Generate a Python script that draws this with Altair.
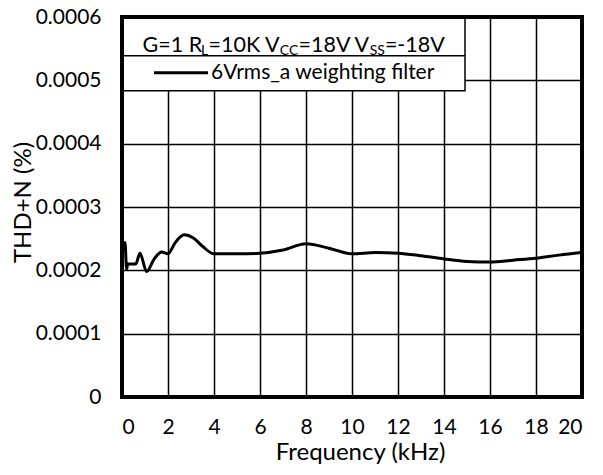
import altair as alt
import pandas as pd

# ---- data ----
freq_khz = [0.02, 0.13, 0.20, 0.25, 0.60, 0.78, 1.07, 1.40, 1.72, 2.00, 2.30, 2.70,
            3.10, 3.50, 4.00, 5.00, 6.00, 7.00, 8.00, 9.00, 10.0, 11.0, 12.0, 13.0,
            14.0, 15.0, 16.0, 17.0, 18.0, 19.0, 20.0]
thd_e4 = [2.30, 2.44, 2.02, 2.10, 2.10, 2.27, 1.98, 2.18, 2.29, 2.26, 2.43, 2.56,
          2.51, 2.38, 2.26, 2.26, 2.27, 2.32, 2.42, 2.35, 2.26, 2.28, 2.27, 2.23,
          2.18, 2.14, 2.13, 2.16, 2.19, 2.24, 2.28]
thd_pct = [v * 1e-4 for v in thd_e4]

x_ticks = [0, 2, 4, 6, 8, 10, 12, 14, 16, 18, 20]
y_ticks = [0, 0.0001, 0.0002, 0.0003, 0.0004, 0.0005, 0.0006]

x_title = "Frequency (kHz)"
y_title = "THD+N (%)"
legend_parts = ["G=1 R", "L", "=10K V", "CC", "=18V V", "SS", "=-18V"]
legend_sub = [False, True, False, True, False, True, False]
series_name = "6Vrms_a weighting filter"

# ---- layout ----
W, H = 460, 380
FONT = "Lato"
TICK_FS = 21
TITLE_FS = 24
LEG_FS = 21.5
SUB_FS = 14

# approximate Lato advance widths (em) to chain the legend text pieces
ADV = {"G": 0.714, "=": 0.58, "1": 0.58, " ": 0.193, "R": 0.631, "L": 0.506,
       "0": 0.58, "K": 0.676, "V": 0.678, "C": 0.652, "8": 0.58, "S": 0.524, "-": 0.37}


def text_width(s, fs):
    return sum(ADV.get(ch, 0.55) for ch in s) * fs


df = pd.DataFrame({"freq": freq_khz, "thd": thd_pct})
one = pd.DataFrame({"k": [0]})

line = alt.Chart(df).mark_line(color="black", strokeWidth=3, interpolate="monotone").encode(
    x=alt.X("freq:Q",
            scale=alt.Scale(domain=[0, 20], nice=False, zero=False),
            axis=alt.Axis(values=x_ticks, title=x_title, grid=True, ticks=False, domain=False,
                          labelPadding=19, labelFontSize=TICK_FS, titleFontSize=TITLE_FS,
                          titleX=238, titleY=62, titleAlign="center", titleBaseline="alphabetic")),
    y=alt.Y("thd:Q",
            scale=alt.Scale(domain=[0, 0.0006], nice=False),
            axis=alt.Axis(values=y_ticks, title=y_title, grid=True, ticks=False, domain=False,
                          labelPadding=21, labelFontSize=TICK_FS, titleFontSize=TITLE_FS,
                          labelExpr="datum.value == 0 ? '0' : format(datum.value, '.4f')",
                          titleX=-92, titleY=185, titleAlign="center", titleBaseline="alphabetic",
                          titleAngle=270)),
)

BOX_W, BOX_H, DIV_Y = 343, 73.7, 38.7

box = alt.Chart(one).mark_rect(fill="white", stroke="black", strokeWidth=1.5).encode(
    x=alt.value(0), x2=alt.value(BOX_W), y=alt.value(0), y2=alt.value(BOX_H))
divider = alt.Chart(one).mark_rule(color="black", strokeWidth=1.5).encode(
    x=alt.value(0), x2=alt.value(BOX_W), y=alt.value(DIV_Y))
sample = alt.Chart(one).mark_rule(color="black", strokeWidth=3).encode(
    x=alt.value(32), x2=alt.value(86), y=alt.value(55.7))
series_text = alt.Chart(one).mark_text(align="left", baseline="alphabetic", font=FONT,
                                       fontSize=21, color="black").encode(
    x=alt.value(89), y=alt.value(62.3), text=alt.value(series_name))

parts = []
cur_x = 20.5
for txt, sub in zip(legend_parts, legend_sub):
    fs = SUB_FS if sub else LEG_FS
    parts.append(
        alt.Chart(one).mark_text(align="left", baseline="alphabetic", font=FONT,
                                 fontSize=fs, color="black").encode(
            x=alt.value(cur_x), y=alt.value(37.8 if sub else 34.5), text=alt.value(txt))
    )
    cur_x += text_width(txt, fs) + 0.5

frame = alt.Chart(one).mark_rect(fillOpacity=0, stroke="black", strokeWidth=4).encode(
    x=alt.value(0), x2=alt.value(W), y=alt.value(0), y2=alt.value(H))

chart = alt.layer(line, box, divider, sample, series_text, *parts, frame).properties(
    width=W, height=H, autosize="none",
    padding={"left": 122, "top": 17, "right": 21, "bottom": 78},
    background="white",
).configure_view(strokeWidth=0).configure_axis(
    gridColor="black", gridWidth=1.5, gridOpacity=1,
    labelFont=FONT, titleFont=FONT, labelColor="black", titleColor="black",
    titleFontWeight="normal",
)

chart.save("out.html", embed_options={"renderer": "svg", "actions": False})
